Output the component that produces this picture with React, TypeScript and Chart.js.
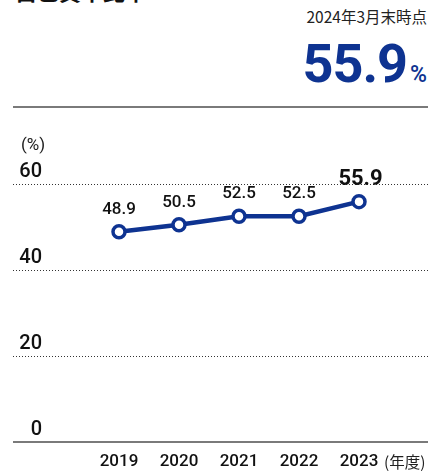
import React, { useEffect, useRef } from "react";
import { Chart, registerables } from "chart.js";

Chart.register(...registerables);

const years = ["2019", "2020", "2021", "2022", "2023"];
const equityRatio = [48.9, 50.5, 52.5, 52.5, 55.9];
const yTicks = [0, 20, 40, 60];
const title = "自己資本比率";
const asOf = "2024年3月末時点";
const headline = "55.9";
const yUnit = "(%)";
const xUnit = "(年度)";

const NAVY = "#0e3391";

export default function App() {
  const ref = useRef<HTMLCanvasElement | null>(null);

  useEffect(() => {
    const canvas = ref.current;
    if (!canvas) return;

    const overlay = {
      id: "overlay",
      beforeDatasetsDraw(chart: any) {
        const ctx = chart.ctx;
        const y = chart.scales.y;
        ctx.save();
        yTicks.forEach((v) => {
          const py = Math.round(y.getPixelForValue(v));
          ctx.beginPath();
          if (v === 0) {
            ctx.setLineDash([]);
            ctx.strokeStyle = "#7a7a7a";
            ctx.lineWidth = 2;
            ctx.moveTo(13, py);
            ctx.lineTo(428, py);
          } else {
            ctx.setLineDash([1, 2]);
            ctx.strokeStyle = "#333";
            ctx.lineWidth = 1;
            ctx.moveTo(13, py + 0.5);
            ctx.lineTo(428, py + 0.5);
          }
          ctx.stroke();
          ctx.setLineDash([]);
          ctx.fillStyle = "#111";
          ctx.font = "500 20px Roboto";
          ctx.textAlign = "right";
          ctx.textBaseline = "alphabetic";
          ctx.fillText(String(v), 42, py - 7);
        });
        ctx.font = "17px Roboto";
        ctx.textAlign = "left";
        ctx.textBaseline = "middle";
        ctx.fillStyle = "#222";
        ctx.fillText(yUnit, 21, 146);
        const x = chart.scales.x;
        const lastX = x.getPixelForValue(years.length - 1);
        ctx.font = "15.5px 'Noto Sans CJK JP'";
        ctx.fillText(xUnit, lastX + 25, 462);
        ctx.restore();
      },
      afterDatasetsDraw(chart: any) {
        const ctx = chart.ctx;
        const meta = chart.getDatasetMeta(0);
        ctx.save();
        ctx.textAlign = "center";
        ctx.textBaseline = "alphabetic";
        ctx.fillStyle = "#111";
        meta.data.forEach((pt: any, i: number) => {
          const last = i === equityRatio.length - 1;
          ctx.font = last ? "bold 22px Roboto" : "500 17px Roboto";
          ctx.fillText(equityRatio[i].toFixed(1), pt.x + (last ? 1.5 : 0), pt.y - (last ? 16.5 : 18));
        });
        ctx.restore();
      },
    };

    const chart = new Chart(canvas, {
      type: "line",
      data: {
        labels: years,
        datasets: [
          {
            data: equityRatio,
            borderColor: NAVY,
            borderWidth: 4.5,
            backgroundColor: "#fff",
            pointBackgroundColor: "#fff",
            pointBorderColor: NAVY,
            pointBorderWidth: 3.5,
            pointRadius: 6,
            tension: 0,
          },
        ],
      },
      options: {
        responsive: false,
        animation: false,
        devicePixelRatio: 1,
        layout: { padding: { left: 89, right: 39, top: 184, bottom: -10 } },
        plugins: { legend: { display: false }, tooltip: { enabled: false } },
        scales: {
          y: { min: 0, max: 60, display: false },
          x: {
            offset: true,
            grid: { display: false, drawTicks: false },
            border: { display: false },
            ticks: {
              color: "#111",
              padding: 11,
              font: { family: "Roboto", size: 17, weight: "500", lineHeight: 1 },
              maxRotation: 0,
              autoSkip: false,
            },
          },
        },
      },
      plugins: [overlay],
    });
    return () => chart.destroy();
  }, []);

  return (
    <div style={{ position: "absolute", left: 0, top: 0, width: 428, height: 471, overflow: "hidden", background: "#fff" }}>
      <div
        style={{
          position: "absolute",
          left: 15,
          top: -21,
          fontFamily: "'Noto Sans CJK JP'",
          fontWeight: "bold",
          fontSize: 22,
          lineHeight: "22px",
          color: "#111",
          whiteSpace: "nowrap",
        }}
      >
        {title}
      </div>
      <div
        style={{
          position: "absolute",
          right: 1,
          top: 8,
          fontFamily: "'Noto Sans CJK JP'",
          fontSize: 15.5,
          lineHeight: "16px",
          color: "#222",
          whiteSpace: "nowrap",
        }}
      >
        {asOf}
      </div>
      <div
        style={{
          position: "absolute",
          right: 1,
          top: 37,
          fontFamily: "Roboto",
          fontWeight: "bold",
          fontSize: 54,
          lineHeight: "54px",
          letterSpacing: -1,
          color: NAVY,
          whiteSpace: "nowrap",
        }}
      >
        {headline}
        <span style={{ fontSize: 23, fontWeight: 500, marginLeft: 3, letterSpacing: 0 }}>%</span>
      </div>
      <div style={{ position: "absolute", left: 13, top: 106, width: 415, height: 2, background: "#7a7a7a" }} />
      <canvas ref={ref} width={428} height={471} style={{ position: "absolute", left: 0, top: 0, width: 428, height: 471 }} />
    </div>
  );
}
